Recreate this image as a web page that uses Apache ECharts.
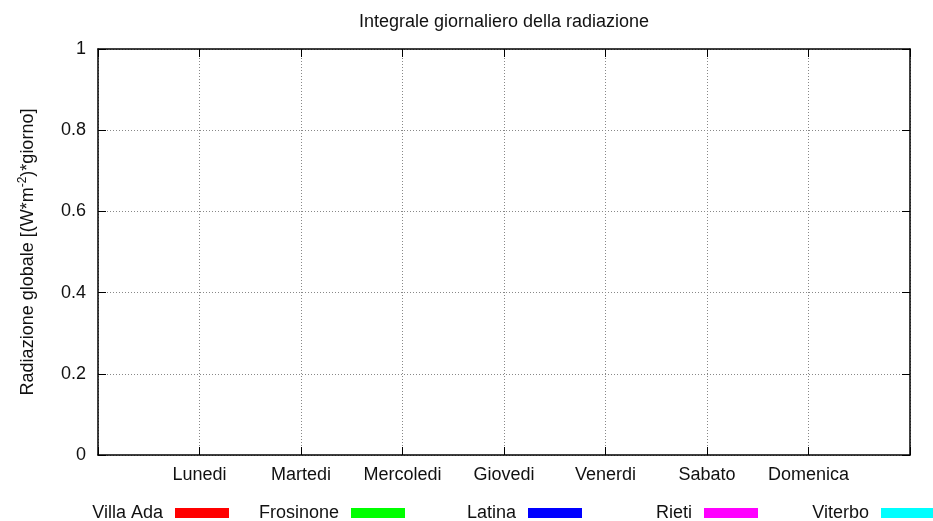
<!DOCTYPE html>
<html>
<head>
<meta charset="utf-8">
<script src="https://cdn.jsdelivr.net/npm/echarts@6/dist/echarts.min.js"></script>
<style>
html,body{margin:0;padding:0;background:#fff;}
#chart{width:933px;height:521px;}
</style>
</head>
<body>
<div id="chart"></div>
<script>
// ---- data ----
var days = ['Lunedi', 'Martedi', 'Mercoledi', 'Giovedi', 'Venerdi', 'Sabato', 'Domenica'];
var stations = ['Villa Ada', 'Frosinone', 'Latina', 'Rieti', 'Viterbo'];
var colors = ['#ff0000', '#00ff00', '#0000ff', '#ff00ff', '#00ffff'];
var villaAda  = [0, 0, 0, 0, 0, 0, 0];
var frosinone = [0, 0, 0, 0, 0, 0, 0];
var latina    = [0, 0, 0, 0, 0, 0, 0];
var rieti     = [0, 0, 0, 0, 0, 0, 0];
var viterbo   = [0, 0, 0, 0, 0, 0, 0];
var yTicks = [0, 0.2, 0.4, 0.6, 0.8, 1];

var seriesValues = [villaAda, frosinone, latina, rieti, viterbo];
var FONT = "'Liberation Sans', Arial, Helvetica, sans-serif";
var TXT = '#111';
var FS = 18;

var chart = echarts.init(document.getElementById('chart'));

// legend box right edges (gnuplot key, one entry per column)
var boxRight = [229, 405, 582, 758, 935];
var legends = stations.map(function (s, i) {
  return {
    data: [s],
    right: 933 - boxRight[i],
    top: 504,
    orient: 'horizontal',
    align: 'right',
    padding: 0,
    icon: 'rect',
    itemWidth: 54,
    itemHeight: 10,
    selectedMode: false,
    textStyle: { fontFamily: FONT, fontSize: FS, color: TXT, lineHeight: 18, padding: [0, 7, 0, 0] }
  };
});

var series = stations.map(function (s, i) {
  return {
    name: s,
    type: 'bar',
    xAxisIndex: 0,
    yAxisIndex: 0,
    barWidth: 12,
    itemStyle: { color: colors[i] },
    data: seriesValues[i].map(function (v, k) { return [k + 1, v]; })
  };
});

function dayLabel(v) {
  var k = Math.round(v);
  return (k >= 1 && k <= days.length) ? days[k - 1] : '';
}

var tickStyle = { show: true, inside: true, length: 8, lineStyle: { color: '#000', width: 1 } };
var boxLine = { show: true, onZero: false, lineStyle: { color: '#000', width: 1.5 } };
var gridLine = { show: true, lineStyle: { color: '#888', type: [1, 2], width: 1 } };

var option = {
  animation: false,
  backgroundColor: '#ffffff',
  color: colors,
  title: {
    text: 'Integrale giornaliero della radiazione',
    left: 504,
    textAlign: 'center',
    top: 13,
    padding: 0,
    textStyle: { fontFamily: FONT, fontSize: FS, fontWeight: 'normal', color: TXT }
  },
  legend: legends,
  grid: { left: 98, right: 23, top: 49, bottom: 66, containLabel: false },
  xAxis: [
    {
      type: 'value',
      min: 0,
      max: days.length + 1,
      interval: 1,
      position: 'bottom',
      axisLine: boxLine,
      axisTick: tickStyle,
      axisLabel: { show: true, margin: 11, fontFamily: FONT, fontSize: FS, color: TXT, formatter: dayLabel },
      splitLine: gridLine
    },
    {
      type: 'value',
      min: 0,
      max: days.length + 1,
      interval: 1,
      position: 'top',
      axisLine: boxLine,
      axisTick: tickStyle,
      axisLabel: { show: false },
      splitLine: { show: false }
    }
  ],
  yAxis: [
    {
      type: 'value',
      min: yTicks[0],
      max: yTicks[yTicks.length - 1],
      interval: 0.2,
      position: 'left',
      name: '{n|Radiazione globale [(W*m}{s|-2}{n|)*giorno]}',
      nameLocation: 'middle',
      nameGap: 59,
      nameRotate: 90,
      nameTextStyle: {
        fontFamily: FONT, fontSize: FS, color: TXT,
        rich: {
          n: { fontFamily: FONT, fontSize: FS, color: TXT, lineHeight: 22 },
          s: { fontFamily: FONT, fontSize: 12, color: TXT, verticalAlign: 'top', lineHeight: 22 }
        }
      },
      axisLine: boxLine,
      axisTick: tickStyle,
      axisLabel: {
        margin: 12, fontFamily: FONT, fontSize: FS, color: TXT,
        formatter: function (v) { return String(Math.round(v * 10) / 10); }
      },
      splitLine: gridLine
    },
    {
      type: 'value',
      min: yTicks[0],
      max: yTicks[yTicks.length - 1],
      interval: 0.2,
      position: 'right',
      axisLine: boxLine,
      axisTick: tickStyle,
      axisLabel: { show: false },
      splitLine: { show: false }
    }
  ],
  series: series
};

chart.setOption(option);
</script>
</body>
</html>
